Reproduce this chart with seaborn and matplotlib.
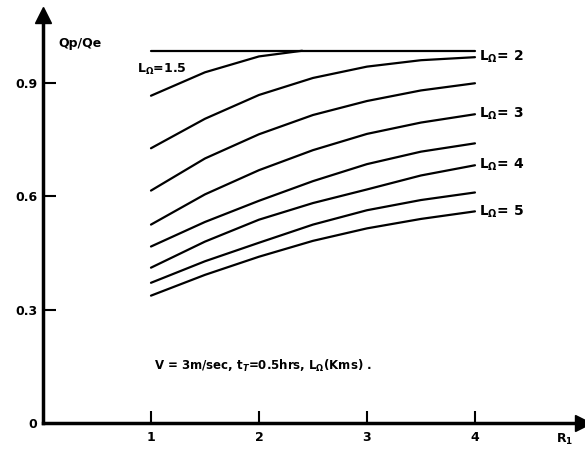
import numpy as np
import pandas as pd
import matplotlib.pyplot as plt
import seaborn as sns

# values
r1 = [1, 1.5, 2, 2.5, 3, 3.5, 4]
r1_short = [1, 1.5, 2, 2.4]
flat_r = [1, 4]
flat_q = [0.985, 0.985]

q_l15 = [0.866, 0.928, 0.970, 0.985]
q_l2 = [0.727, 0.805, 0.868, 0.913, 0.943, 0.960, 0.968]
q_l25 = [0.615, 0.700, 0.764, 0.815, 0.852, 0.880, 0.899]
q_l3 = [0.525, 0.605, 0.669, 0.722, 0.765, 0.795, 0.817]
q_l35 = [0.467, 0.532, 0.588, 0.640, 0.685, 0.718, 0.740]
q_l4 = [0.411, 0.480, 0.538, 0.582, 0.618, 0.655, 0.682]
q_l45 = [0.371, 0.428, 0.477, 0.525, 0.563, 0.590, 0.610]
q_l5 = [0.337, 0.392, 0.440, 0.482, 0.515, 0.540, 0.560]

curves = {"1.5": q_l15, "2": q_l2, "2.5": q_l25, "3": q_l3,
          "3.5": q_l35, "4": q_l4, "4.5": q_l45, "5": q_l5}
labelled = ["2", "3", "4", "5"]

x_ticks = [1, 2, 3, 4]
y_ticks = [0, 0.3, 0.6, 0.9]
y_ticklabels = ["0", "0.3", "0.6", "0.9"]

sns.set_style("white")
plt.rcParams['font.family'] = ['DejaVu Sans']
plt.rcParams['font.weight'] = 'bold'
plt.rcParams['text.color'] = 'black'

fig = plt.figure(figsize=(5.85, 4.5), dpi=100)
ax = fig.add_axes([0.0735, 0.06, 0.923, 0.907])

# top limit line
sns.lineplot(x=flat_r, y=flat_q, color="black", lw=1.6, ax=ax, estimator=None)

for name, q in curves.items():
    xs = r1_short if name == "1.5" else r1
    sns.lineplot(x=xs, y=q, color="black", lw=1.6, ax=ax, estimator=None)
    if name in labelled:
        ax.text(xs[-1] + 0.04, q[-1], r"L$_\Omega$= " + name, fontsize=10,
                fontweight="bold", va="center", ha="left")

ax.text(0.87, 0.936, r"L$_\Omega$=1.5", fontsize=9, fontweight="bold",
        va="center", ha="left")

ax.text(1.03, 0.151, r"V = 3m/sec, t$_T$=0.5hrs, L$_\Omega$(Kms) .",
        fontsize=8.5, fontweight="bold", va="center", ha="left")

ax.set_xlim(0, 5.0)
ax.set_ylim(0, 1.08)

ax.spines["top"].set_visible(False)
ax.spines["right"].set_visible(False)
for s in ["left", "bottom"]:
    ax.spines[s].set_linewidth(2.5)
    ax.spines[s].set_color("black")

# axis arrows
ax.plot(1, 0, ">k", ms=11, transform=ax.transAxes, clip_on=False)
ax.plot(0, 1, "^k", ms=11, transform=ax.transAxes, clip_on=False)

ax.set_xticks(x_ticks)
ax.set_xticklabels([str(t) for t in x_ticks], fontsize=9, fontweight="bold")
ax.set_yticks(y_ticks)
ax.set_yticklabels(y_ticklabels, fontsize=9, fontweight="bold")
ax.tick_params(axis="y", left=True, direction="in", length=9, width=1.5,
               pad=4, color="black", labelcolor="black")
ax.tick_params(axis="x", bottom=True, direction="in", length=9, width=1.5,
               pad=6, color="black", labelcolor="black")
ax.yaxis.get_major_ticks()[0].tick1line.set_visible(False)

ax.set_xlabel("")
ax.set_ylabel("")
ax.text(0.028, 0.93, "Qp/Qe", transform=ax.transAxes, fontsize=9,
        fontweight="bold", va="center", ha="left")
ax.text(0.95, -0.04, r"R$_1$", transform=ax.transAxes, fontsize=9,
        fontweight="bold", va="center", ha="left")

plt.savefig("out.png", dpi=100)
